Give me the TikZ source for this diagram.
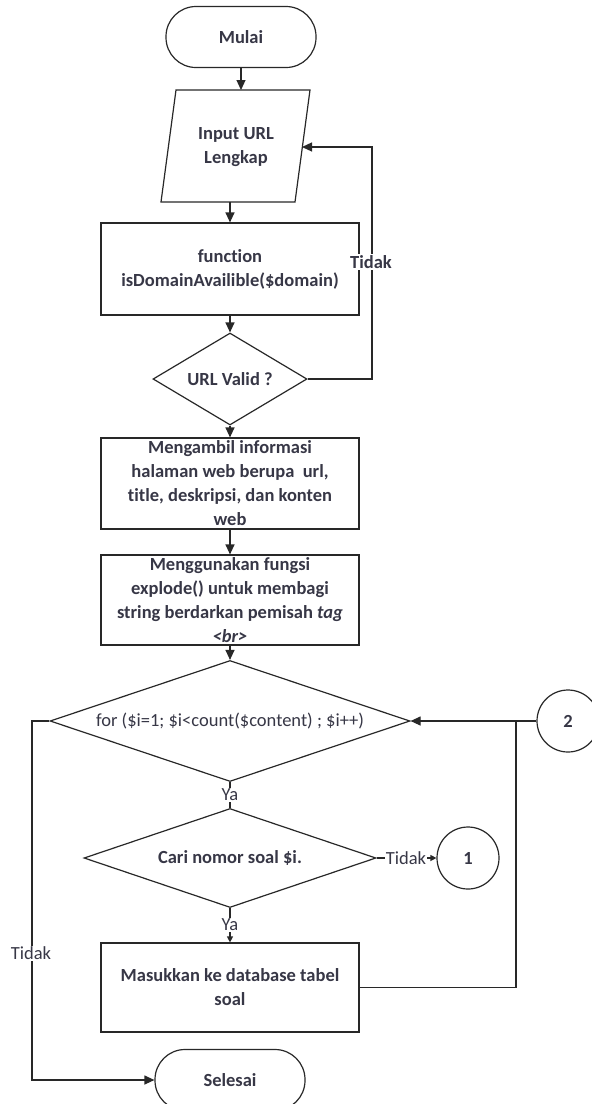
\documentclass[tikz,border=0pt]{standalone}
\usepackage{fontspec}
\setmainfont[Ligatures=NoCommon]{Carlito}
\usetikzlibrary{shapes.geometric,arrows.meta}
\definecolor{ink}{RGB}{55,55,70}
\definecolor{edge}{RGB}{40,40,40}
\begin{document}
\begin{tikzpicture}[x=1pt,y=-1pt,
  txt/.style={text=ink, font=\fontsize{18.5}{24}\selectfont},
  btxt/.style={text=ink, font=\fontsize{18.5}{24}\selectfont\bfseries},
  base/.style={draw=edge, line width=1.2pt},
  terminal/.style={base, btxt, rectangle, rounded corners=30pt,
    minimum width=150pt, minimum height=61pt, inner sep=0pt},
  process/.style={base, btxt, rectangle, align=center,
    minimum width=258pt, inner sep=0pt},
  decision/.style={base, diamond, inner sep=0pt},
  connector/.style={base, btxt, circle, minimum size=62pt, inner sep=0pt},
  flow/.style={draw=edge, line width=1.2pt, -{Triangle[length=10pt,width=9pt]}},
  smallflow/.style={draw=edge, line width=1.2pt, -{Triangle[length=6pt,width=6pt]}},
  line/.style={draw=edge, line width=1.2pt},
  lab/.style={txt, fill=white, inner sep=1pt},
  blab/.style={btxt, fill=white, inner sep=1pt}
]
\useasboundingbox (0,0) rectangle (592,1104);
\fill[white] (0,0) rectangle (592,1104);

% start
\node[terminal] (mulai) at (241,37) {Mulai};

% input parallelogram
\draw[base] (176,90) -- (310,90) -- (295,202) -- (161,202) -- cycle;
\node[btxt, align=center] (input) at (236,147) {Input URL\\Lengkap};
\coordinate (inTop) at (241,90);
\coordinate (inBot) at (230,202);
\coordinate (inRight) at (302,147);

% process and decision blocks
\node[process, minimum height=92pt] (func) at (230,269)
  {function\\isDomainAvailible(\$domain)};
\node[decision, btxt, minimum width=154pt, minimum height=92pt, aspect=1.67]
  (valid) at (230,379) {URL Valid ?};
\node[process, minimum height=91pt] (info) at (230,483.5)
  {Mengambil informasi\\halaman web berupa\ \ url,\\title, deskripsi, dan konten\\web};
\node[process, minimum height=90pt] (split) at (230,600)
  {Menggunakan fungsi\\explode() untuk membagi\\string berdarkan pemisah \textit{tag}\\\textit{<br>}};
\node[decision, txt, minimum width=360pt, minimum height=121pt, aspect=2.97]
  (loop) at (230,721) {for (\$i=1; \$i<count(\$content) ; \$i++)};
\node[decision, btxt, minimum width=292pt, minimum height=99pt, aspect=2.95]
  (find) at (230,858) {Cari nomor soal \$i.};
\node[process, minimum height=89pt] (store) at (230,987.5)
  {Masukkan ke database tabel\\soal};
\node[terminal] (end) at (230,1080) {Selesai};

% off-page connectors
\node[connector] (one) at (468,858) {1};
\node[connector] (two) at (568,721) {2};

% route points
\coordinate (urlLoop) at (372,147);
\coordinate (join) at (516,721);
\coordinate (exitTop) at (32,721);
\coordinate (exitLow) at (32,1080);

% main flow
\draw[flow] (mulai.south) -- (inTop);
\draw[flow] (inBot) -- (func.north);
\draw[flow] (func.south) -- (valid.north);
\draw[flow] (valid.east) -| (urlLoop) -- (inRight);
\node[blab] (tidakUrl) at (371,262) {Tidak};
\draw[flow] (valid.south) -- (info.north);
\draw[flow] (info.south) -- (split.north);
\draw[flow] (split.south) -- (loop.north);
\draw[line] (loop.south) -- (find.north);
\node[lab] (yaLoop) at (230,795) {Ya};
\draw[smallflow] (find.south) -- (store.north);
\node[lab] (yaFind) at (230,925) {Ya};
\draw[smallflow] (find.east) -- (one.west);
\node[lab] (tidakFind) at (406,858) {Tidak};
\draw[line] (store.east) -| (join);
\draw[flow] (two.west) -- (loop.east);
\draw[flow] (loop.west) -- (exitTop) -- (exitLow) -- (end.west);
\node[lab] (tidakLoop) at (31,953) {Tidak};
\end{tikzpicture}
\end{document}
